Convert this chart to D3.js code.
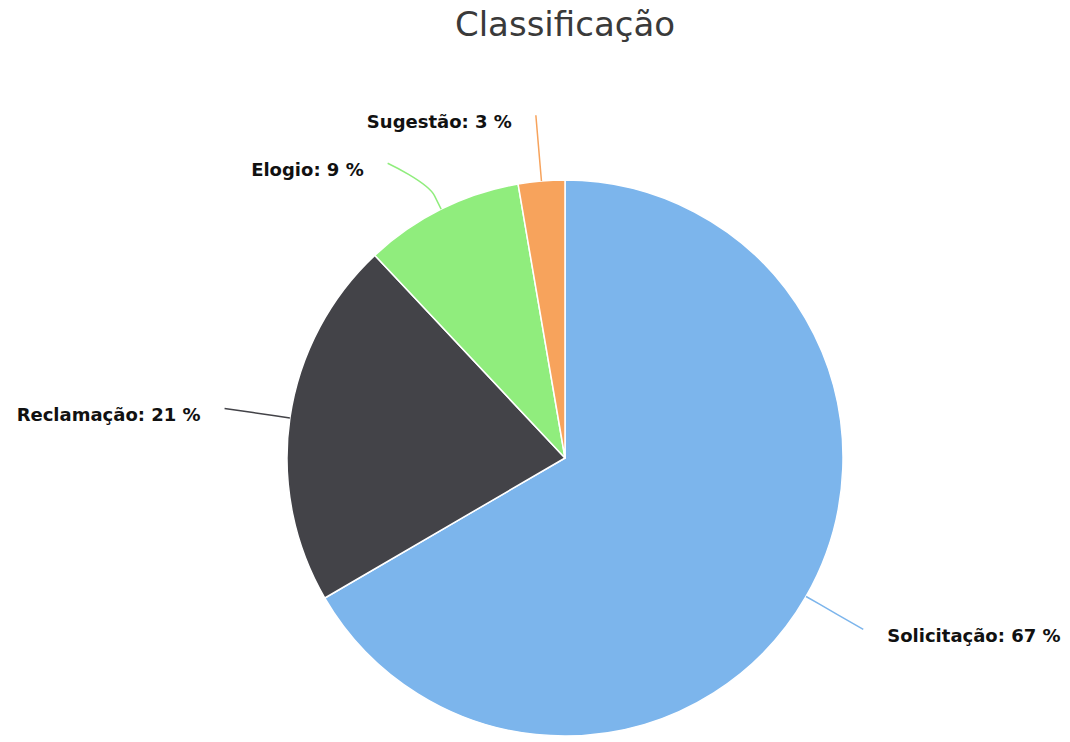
<!DOCTYPE html>
<html>
<head>
<meta charset="utf-8">
<script src="https://cdn.jsdelivr.net/npm/d3@7"></script>
<style>
    body { margin: 0; background: #fff; }
</style>
</head>
<body>
<div class="vis"></div>
<script>
const categories = ['Solicitação', 'Reclamação', 'Elogio', 'Sugestão'];
const shares = [66.6, 21.4, 9.3, 2.7];
const colors = ['#7cb5ec', '#434348', '#90ed7d', '#f7a35c'];

createPieChart();

function createPieChart() {

    const width = 1070,
        height = 742;
    const cx = 565,
        cy = 458,
        radius = 278;
    const labelDistance = 66,   // label circle outside the pie
        breakOffset = 15,       // second break of connector
        labelSlot = 48,         // min vertical spacing of labels on one side
        textGap = 24;

    let svg = d3.select('.vis')
        .append('svg')
        .attr('width', width)
        .attr('height', height);

    svg.append('text')
        .attr('x', cx)
        .attr('y', 36)
        .attr('text-anchor', 'middle')
        .style('font-family', '"DejaVu Sans", sans-serif')
        .style('font-size', '34px')
        .style('fill', '#3a3a3a')
        .text('Classificação');

    let data = categories.map((c, i) => ({ name: c, value: shares[i], color: colors[i] }));
    let total = d3.sum(shares);

    let pie = d3.pie()
        .sort(null)
        .value(d => d.value);

    let arcs = pie(data);

    let arc = d3.arc()
        .innerRadius(0)
        .outerRadius(radius);

    let g = svg.append('g')
        .attr('transform', 'translate(' + cx + ',' + cy + ')');

    g.selectAll('path.slice')
        .data(arcs)
        .join('path')
        .attr('class', 'slice')
        .attr('d', arc)
        .attr('fill', d => d.data.color)
        .attr('stroke', '#ffffff')
        .attr('stroke-width', 1.5)
        .attr('stroke-linejoin', 'round');

    // label layout
    const R = radius + labelDistance;
    const polar = (a, r) => [r * Math.sin(a), -r * Math.cos(a)];

    arcs.forEach(d => {
        d.mid = (d.startAngle + d.endAngle) / 2;
        d.left = d.mid > Math.PI;
        d.ly = polar(d.mid, R)[1];
    });

    // push labels apart on each side
    [true, false].forEach(side => {
        let list = arcs.filter(d => d.left === side).sort((a, b) => a.ly - b.ly);
        for (let i = 1; i < list.length; i++) {
            if (list[i].ly < list[i - 1].ly + labelSlot) list[i].ly = list[i - 1].ly + labelSlot;
        }
    });

    arcs.forEach(d => {
        let dx = Math.sqrt(Math.max(0, R * R - d.ly * d.ly));
        d.lx = d.left ? -dx : dx;
    });

    g.selectAll('path.connector')
        .data(arcs)
        .join('path')
        .attr('class', 'connector')
        .attr('fill', 'none')
        .attr('stroke', d => d.data.color)
        .attr('stroke-width', 1.5)
        .attr('d', d => {
            let p = polar(d.mid, radius),
                b = polar(d.mid, radius + breakOffset),
                c = polar(d.mid, radius + 2 * breakOffset);
            return 'M' + d.lx + ',' + d.ly +
                'C' + d.lx + ',' + d.ly + ' ' + c[0] + ',' + c[1] + ' ' + b[0] + ',' + b[1] +
                'L' + p[0] + ',' + p[1];
        });

    g.selectAll('text.label')
        .data(arcs)
        .join('text')
        .attr('class', 'label')
        .attr('x', d => d.left ? d.lx - textGap : d.lx + textGap)
        .attr('y', d => d.ly)
        .attr('dy', '0.7em')
        .attr('text-anchor', d => d.left ? 'end' : 'start')
        .style('font-family', '"DejaVu Sans", sans-serif')
        .style('font-size', '18px')
        .style('font-weight', 'bold')
        .style('fill', '#111111')
        .text(d => d.data.name + ': ' + Math.round(d.data.value / total * 100) + ' %');
}
</script>
</body>
</html>
